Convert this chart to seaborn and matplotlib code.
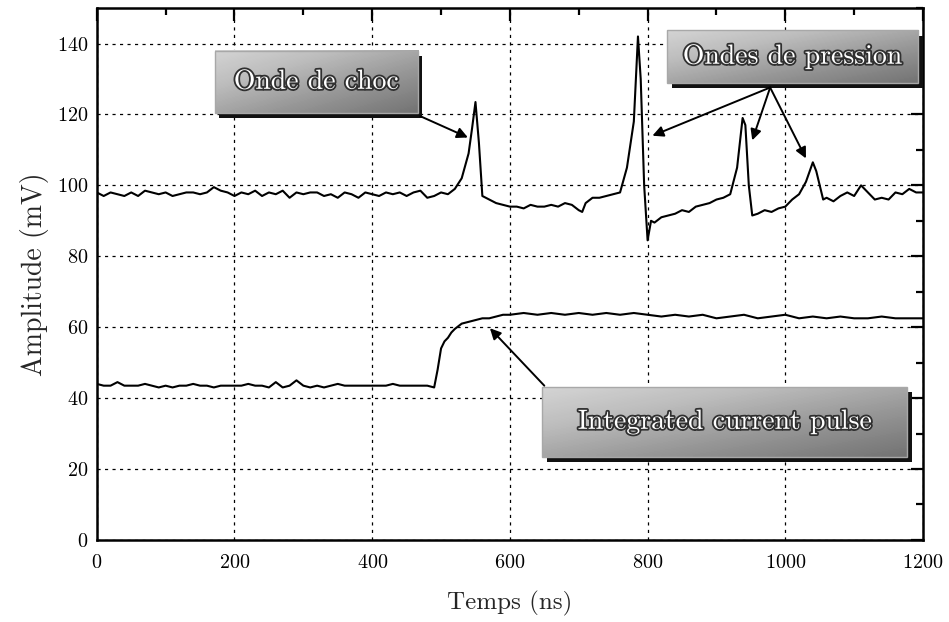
import numpy as np
import pandas as pd
import matplotlib
matplotlib.use("Agg")
import matplotlib.pyplot as plt
import matplotlib.patheffects as pe
from matplotlib.patches import Rectangle
from matplotlib.ticker import MultipleLocator
import seaborn as sns

# ---------------- data ----------------
upper_t = [0, 10, 20, 30, 40, 50, 60, 70, 80, 90, 100, 110, 120, 130, 140, 150, 160, 170, 180, 190,
           200, 210, 220, 230, 240, 250, 260, 270, 280, 290, 300, 310, 320, 330, 340, 350, 360, 370,
           380, 390, 400, 410, 420, 430, 440, 450, 460, 470, 480, 490, 500, 510, 520,
           530, 540, 545, 550, 555, 560, 570, 580, 590, 600, 610, 620, 630, 640, 650, 660, 670, 680,
           690, 700, 705, 710, 720, 730, 740, 750, 760, 770, 780, 786, 790, 795, 800, 805, 810, 820,
           830, 840, 850, 860, 870, 880, 890, 900, 910, 920, 930, 938, 942, 947, 952, 960, 970, 980,
           990, 1000, 1010, 1020, 1030, 1040, 1045, 1055, 1060, 1070, 1080, 1090, 1100, 1110, 1120,
           1130, 1140, 1150, 1160, 1170, 1180, 1190, 1200]
upper_v = [98, 97, 98, 97.5, 97, 98, 97, 98.5, 98, 97.5, 98, 97, 97.5, 98, 98, 97.5, 98, 99.5, 98.5, 98,
           97, 98, 97.5, 98.5, 97, 98, 97.5, 98.5, 96.5, 98, 97.5, 98, 98, 97, 97.5, 96.5, 98, 97.5,
           96.5, 98, 97.5, 97, 98, 97.5, 98, 97, 98, 98.5, 96.5, 97, 98, 97.5, 99,
           102, 109, 116, 123.5, 112, 97, 96, 95, 94.5, 94, 94, 93.5, 94.5, 94, 94, 94.5, 94, 95,
           94.5, 93, 92.5, 95, 96.5, 96.5, 97, 97.5, 98, 105, 118, 142, 130, 100, 84.5, 90, 89.5, 91,
           91.5, 92, 93, 92.5, 94, 94.5, 95, 96, 96.5, 97.5, 105, 119, 117, 100, 91.5, 92, 93, 92.5,
           93.5, 94, 96, 97.5, 101, 106.5, 104, 96, 96.5, 95.5, 97, 98, 97, 100, 98,
           96, 96.5, 96, 98, 97.5, 99, 98, 98]

lower_t = [0, 10, 20, 30, 40, 50, 60, 70, 80, 90, 100, 110, 120, 130, 140, 150, 160, 170, 180, 190,
           200, 210, 220, 230, 240, 250, 260, 270, 280, 290, 300, 310, 320, 330, 340, 350, 360, 370,
           380, 390, 400, 410, 420, 430, 440, 450, 460, 470, 480, 490, 495, 500, 505, 510, 515, 520,
           530, 540, 550, 560, 570, 580, 590, 600, 620, 640, 660, 680, 700, 720, 740, 760, 780, 800,
           820, 840, 860, 880, 900, 920, 940, 960, 980, 1000, 1020, 1040, 1060, 1080, 1100, 1120,
           1140, 1160, 1180, 1200]
lower_v = [44, 43.5, 43.5, 44.5, 43.5, 43.5, 43.5, 44, 43.5, 43, 43.5, 43, 43.5, 43.5, 44, 43.5, 43.5, 43, 43.5, 43.5,
           43.5, 43.5, 44, 43.5, 43.5, 43, 44.5, 43, 43.5, 45, 43.5, 43, 43.5, 43, 43.5, 44, 43.5, 43.5,
           43.5, 43.5, 43.5, 43.5, 43.5, 44, 43.5, 43.5, 43.5, 43.5, 43.5, 43, 48, 54, 56, 57, 58.5, 59.5,
           61, 61.5, 62, 62.5, 62.5, 63, 63.5, 63.5, 64, 63.5, 64, 63.5, 64, 63.5, 64, 63.5, 64, 63.5,
           63, 63.5, 63, 63.5, 62.5, 63, 63.5, 62.5, 63, 63.5, 62.5, 63, 62.5, 63, 62.5, 62.5,
           63, 62.5, 62.5, 62.5]

x_ticks = [0, 200, 400, 600, 800, 1000, 1200]
y_ticks = [0, 20, 40, 60, 80, 100, 120, 140]
xlabel = "Temps (ns)"
ylabel = "Amplitude (mV)"

# annotation texts
label_choc = "Onde de choc"
label_pression = "Ondes de pression"
label_current = "Integrated current pulse"

df_up = pd.DataFrame({"t": upper_t, "v": upper_v})
df_lo = pd.DataFrame({"t": lower_t, "v": lower_v})

# ---------------- style ----------------
sns.set_theme(style="white")
plt.rcParams["font.family"] = ["cmr10", "DejaVu Serif"]
plt.rcParams["axes.formatter.use_mathtext"] = True
plt.rcParams["mathtext.fontset"] = "cm"

fig = plt.figure(figsize=(9.49, 6.22), dpi=100)
ax = fig.add_axes([0.102, 0.132, 0.8706, 0.855])

sns.lineplot(data=df_up, x="t", y="v", ax=ax, color="black", lw=1.5, estimator=None)
sns.lineplot(data=df_lo, x="t", y="v", ax=ax, color="black", lw=1.5, estimator=None)

ax.set_xlim(0, 1200)
ax.set_ylim(0, 150)
ax.set_xticks(x_ticks)
ax.set_yticks(y_ticks)
ax.xaxis.set_minor_locator(MultipleLocator(100))
ax.yaxis.set_minor_locator(MultipleLocator(10))
ax.tick_params(which="both", direction="in", top=True, right=True, colors="black",
               labelsize=14.5, width=1.6)
ax.tick_params(which="major", length=9)
ax.tick_params(which="minor", length=5)
ax.tick_params(axis="x", pad=10)
ax.tick_params(axis="y", pad=6)
ax.grid(True, which="major", color="black", linestyle=(0, (2.5, 3.5)), lw=0.9)
for s in ax.spines.values():
    s.set_color("black")
    s.set_linewidth(1.8)
ax.set_xlabel(xlabel, fontsize=18, labelpad=14)
ax.set_ylabel(ylabel, fontsize=20, labelpad=6)


def draw_box(x0, x1, y0, y1, text, fs):
    dx, dy = 7.0, 1.6
    ax.add_patch(Rectangle((x0 + dx, y0 - dy), x1 - x0, y1 - y0, facecolor="#111111",
                           edgecolor="none", zorder=4))
    grad = np.linspace(0, 1, 64)[None, :] + np.linspace(0, 1, 16)[:, None]
    ax.imshow(grad, extent=(x0, x1, y0, y1), cmap="Greys", vmin=-1.6, vmax=4.2,
              aspect="auto", origin="upper", zorder=5, interpolation="bilinear")
    ax.add_patch(Rectangle((x0, y0), x1 - x0, y1 - y0, facecolor="none",
                           edgecolor="#a8a8a8", lw=1.0, zorder=6))
    ax.text((x0 + x1) / 2, (y0 + y1) / 2, text, ha="center", va="center", color="white",
            fontsize=fs, zorder=7,
            path_effects=[pe.withStroke(linewidth=2.6, foreground="#303030")])


arrow_kw = dict(arrowstyle="-|>", color="black", lw=1.4, mutation_scale=16, shrinkA=0, shrinkB=0)

# Onde de choc
draw_box(171, 466, 120.5, 138, label_choc, 20)
ax.annotate("", xy=(539, 113.5), xytext=(470, 119.5), arrowprops=arrow_kw, zorder=8)

# Ondes de pression
draw_box(828, 1193, 129, 143.7, label_pression, 20)
for tx, ty in [(807, 114), (952, 112.7), (1030, 107.6)]:
    ax.annotate("", xy=(tx, ty), xytext=(978, 127.6), arrowprops=arrow_kw, zorder=8)

# Integrated current pulse
draw_box(647, 1177, 23.5, 43.2, label_current, 20)
ax.annotate("", xy=(571, 59.7), xytext=(650, 43.5), arrowprops=arrow_kw, zorder=8)

ax.set_xlim(0, 1200)
ax.set_ylim(0, 150)

fig.savefig("out.png", dpi=100)
